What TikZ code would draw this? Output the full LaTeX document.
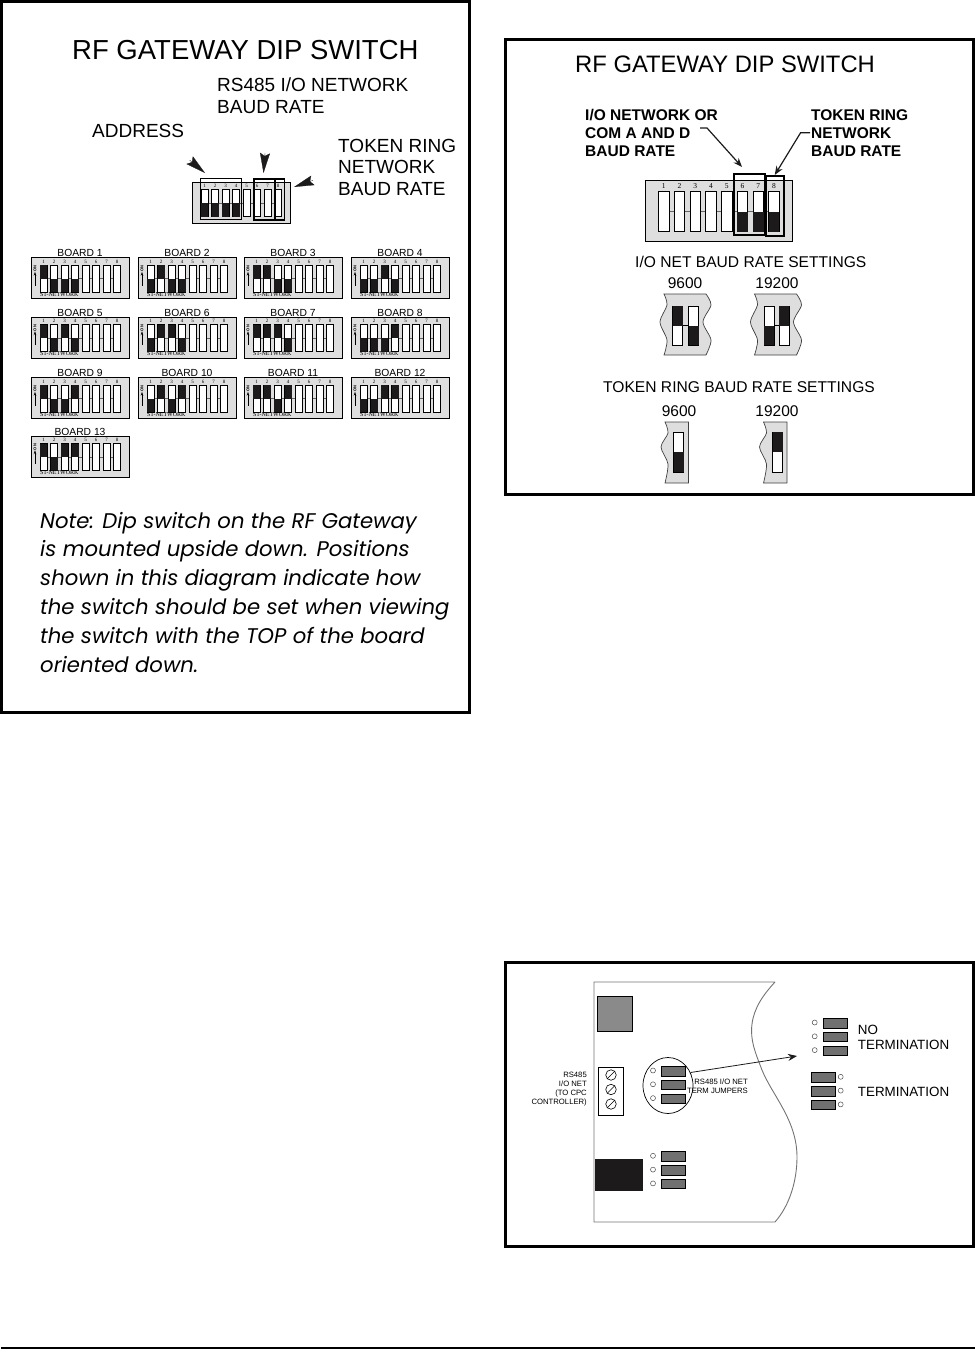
\documentclass[tikz,border=0pt]{standalone}
\usepackage{fontspec}
\setmainfont{Liberation Sans}
\newfontfamily\dipfont{Liberation Serif}
\newfontfamily\notefont{Poppins}
\usepackage{xcolor}
\usetikzlibrary{arrows.meta, positioning, shapes.geometric}
\definecolor{bodygray}{RGB}{222, 222, 222}
\definecolor{jumpergray}{RGB}{112, 112, 112}
\definecolor{blockgray}{RGB}{138, 138, 138}
\definecolor{inkblack}{RGB}{28, 26, 26}

% one slide switch: x, y, width, height, state (0 open, 1 top black, 2 bottom black)
\newcommand{\oneswitch}[5]{%
  \draw[swbody] (#1,#2) rectangle ++(#3,#4);
  \ifnum#5=1 \fill[inkblack] (#1,#2) rectangle ++(#3,#4/2); \fi
  \ifnum#5=2 \fill[inkblack] (#1,#2+#4/2) rectangle ++(#3,#4/2); \fi
}
% eight way switch: name, left, top, scale, states
\newcommand{\dipswitch}[5]{%
  \node[dipbody, minimum width=#4*98pt, minimum height=#4*41pt] (#1) at (#2,#3) {};
  \begin{scope}[shift={(#2,#3)}, scale=#4]
    \draw[midline] (9,21) -- (90,21);
    \foreach \s [count=\i] in {#5} {
      \oneswitch{9+10.5*\i-10.5}{7.5}{7}{27}{\s}
      \node[dipnum] (#1num\i) at (12.5+10.5*\i-10.5,4.3) {\i};
    }
  \end{scope}
}
% address board: name, left, top, title, states of switches 1 to 4
\newcommand{\boardswitch}[5]{%
  \dipswitch{#1}{#2}{#3}{1}{#5,0,0,0,0}
  \node[boardtitle, above=0pt of #1] (#1title) {#4};
  \node[ontag] (#1on) at (#2+4,#3+11) {ON};
  \coordinate (#1tail) at (#2+4,#3+28);
  \draw[-{Stealth[length=4pt,width=2.5pt]}, line width=0.5pt] (#1tail) -- (#1on);
  \node[nettag] (#1net) at (#2+9,#3+37) {S1-NETWORK};
}
% three jumpers with their pads: name, left, top, pad x
\newcommand{\jumperset}[4]{%
  \foreach \j in {0,1,2} {
    \node[jumper] (#1j\j) at (#2,#3+13.8*\j) {};
    \node[pad] (#1p\j) at (#4,#3+4.5+13.8*\j) {};
  }
}
% wavy pieces of board behind the baud rate settings
\newcommand{\ionetpatch}[2]{%
  \draw[patch, shift={(#1,#2)}] plot[smooth] coordinates {(0,0) (3,11) (-4,28) (3,46) (0,61)}
    -- plot[smooth] coordinates {(42,61) (47,46) (39,28) (47,11) (42,0)} -- cycle;
}
\newcommand{\tokenpatch}[2]{%
  \draw[patch, shift={(#1,#2)}] plot[smooth] coordinates {(0,0) (3,11) (-4,25) (3,42) (0,61)}
    -- (23.5,61) -- (23.5,0) -- cycle;
}

\begin{document}
\begin{tikzpicture}[x=1pt, y=-1pt, >={Stealth},
    panel/.style={draw=black, line width=3pt},
    dipbody/.style={rectangle, draw=black, fill=bodygray, line width=0.9pt, anchor=north west, inner sep=0pt, outer sep=0pt},
    swbody/.style={draw=black, fill=white, line width=1pt},
    midline/.style={draw=black!60, line width=0.4pt},
    dipnum/.style={font=\dipfont\fontsize{5}{5}\selectfont, inner sep=0pt, transform shape},
    boardtitle/.style={font=\fontsize{10.3}{11}\selectfont, inner sep=0pt, outer sep=0.5pt},
    ontag/.style={font=\fontsize{4}{4}\selectfont\bfseries, rotate=90, inner sep=0pt},
    nettag/.style={font=\dipfont\fontsize{6}{6}\selectfont, anchor=west, inner sep=0pt},
    frame/.style={rectangle, draw=black, line width=1.5pt, anchor=north west, inner sep=0pt},
    hdr/.style={anchor=base west, inner sep=0pt},
    tag/.style={hdr, align=left, font=\fontsize{19}{21.5}\selectfont},
    boldtag/.style={hdr, align=left, font=\fontsize{15.5}{17.8}\selectfont\bfseries},
    rate/.style={anchor=base, inner sep=0pt, font=\fontsize{15.5}{17}\selectfont},
    settings/.style={hdr, font=\fontsize{15.6}{18}\selectfont},
    patch/.style={draw=black!75, fill=bodygray, line width=0.7pt},
    link/.style={draw=inkblack, line width=1.2pt, -{Stealth[length=9pt,width=7pt]}},
    fat/.style={-{Stealth[length=20pt,width=10pt,inset=3pt]}, draw=inkblack, line width=0.3pt},
    jumper/.style={rectangle, draw=black, fill=jumpergray, line width=0.8pt, minimum width=23.5pt, minimum height=9.5pt, anchor=north west, inner sep=0pt},
    pad/.style={circle, draw=black!70, fill=white, line width=0.5pt, minimum size=5pt, inner sep=0pt},
    screw/.style={circle, draw=black, fill=white, line width=0.6pt, minimum size=10.5pt, inner sep=0pt},
    smalltag/.style={anchor=base east, align=right, inner sep=0pt, font=\fontsize{7.7}{8.8}\selectfont},
    termtag/.style={hdr, font=\fontsize{13.4}{15}\selectfont}]
    \useasboundingbox (0,0) rectangle (975,1369);

    % Left panel
    \draw[panel] (1.5,1.5) rectangle (469.5,712.5);
    \node[hdr, font=\fontsize{27.5}{30}\selectfont] (lefttitle) at (72,59) {RF GATEWAY DIP SWITCH};
    \node[tag] (rsbaud) at (217,113) {RS485 I/O NETWORK\\BAUD RATE};
    \node[tag] (addresstag) at (92,137) {ADDRESS};
    \node[tag] (tokentag) at (338,195) {TOKEN RING\\NETWORK\\BAUD RATE};

    \dipswitch{mainsw}{192}{182}{1}{2,2,2,2,0,0,0,0}
    \node[frame, line width=0.9pt, minimum width=41pt, minimum height=41pt] (addrframe) at (200,178) {};
    \node[frame, minimum width=21pt, minimum height=41pt] (ioframe) at (253,178) {};
    \node[frame, minimum width=9.5pt, minimum height=41pt] (tokenframe) at (274,178) {};

    \coordinate (addrarrow) at (189.5,160);
    \coordinate (ioarrow) at (265,153);
    \coordinate (tokenarrow) at (313,180.3);
    \draw[fat] (addrarrow) -- (205,173);
    \draw[fat] (ioarrow) -- (263.5,173);
    \draw[fat] (tokenarrow) -- (294,187);

    % Address boards
    \boardswitch{boardA}{31}{257.5}{BOARD 1}{1,2,2,2}
    \boardswitch{boardB}{138}{257.5}{BOARD 2}{2,1,2,2}
    \boardswitch{boardC}{244}{257.5}{BOARD 3}{1,1,2,2}
    \boardswitch{boardD}{351}{257.5}{BOARD 4}{2,2,1,2}
    \boardswitch{boardE}{31}{317}{BOARD 5}{1,2,1,2}
    \boardswitch{boardF}{138}{317}{BOARD 6}{2,1,1,2}
    \boardswitch{boardG}{244}{317}{BOARD 7}{1,1,1,2}
    \boardswitch{boardH}{351}{317}{BOARD 8}{2,2,2,1}
    \boardswitch{boardI}{31}{377.5}{BOARD 9}{1,2,2,1}
    \boardswitch{boardJ}{138}{377.5}{BOARD 10}{2,1,2,1}
    \boardswitch{boardK}{244}{377.5}{BOARD 11}{1,1,2,1}
    \boardswitch{boardL}{351}{377.5}{BOARD 12}{2,2,1,1}
    \boardswitch{boardM}{31}{436}{BOARD 13}{1,2,1,1}

    \node[hdr, align=left, font=\notefont\itshape\fontsize{21.2}{28.8}\selectfont] (note) at (40,672)
      {Note: Dip switch on the RF Gateway\\is mounted upside down. Positions\\shown in this diagram indicate how\\the switch should be set when viewing\\the switch with the TOP of the board\\oriented down.};

    % Top right panel
    \draw[panel] (505.5,39.5) rectangle (973.5,494);
    \node[hdr, font=\fontsize{23.8}{26}\selectfont] (righttitle) at (575,72) {RF GATEWAY DIP SWITCH};
    \node[boldtag] (ionetwork) at (585,156) {I/O NETWORK OR\\COM A AND D\\BAUD RATE};
    \node[boldtag] (tokennetwork) at (811,156) {TOKEN RING\\NETWORK\\BAUD RATE};

    \dipswitch{largesw}{645}{180}{1.5}{0,0,0,0,0,2,2,2}
    \node[frame, minimum width=31pt, minimum height=61pt] (largeio) at (733,173) {};
    \node[frame, minimum width=18pt, minimum height=60pt] (largetoken) at (765,175) {};

    \coordinate (iostart) at (700,128);
    \coordinate (ioknee) at (707,128);
    \coordinate (iotip) at (742,167);
    \coordinate (tokenstart) at (810,132.7);
    \coordinate (tokenknee) at (800.6,132.7);
    \draw[link] (iostart) -- (ioknee) -- (iotip);
    \draw[link] (tokenstart) -- (tokenknee) -- (largetoken.north);

    \node[settings] (ionetsettings) at (635,267) {I/O NET BAUD RATE SETTINGS};
    \node[rate] (iorateA) at (685,288) {9600};
    \node[rate] (iorateB) at (777,288) {19200};
    \ionetpatch{664}{294}
    \ionetpatch{754.5}{294}
    \draw[midline, draw=black] (682,325.5) -- (688,325.5);
    \draw[midline, draw=black] (774,325.5) -- (779,325.5);
    \oneswitch{672.5}{306}{10}{39}{1}
    \oneswitch{688.5}{306}{10}{39}{2}
    \oneswitch{764}{306}{10}{39}{2}
    \oneswitch{779}{306}{10}{39}{1}

    \node[settings] (tokensettings) at (603,392) {TOKEN RING BAUD RATE SETTINGS};
    \node[rate] (tokenrateA) at (679,416) {9600};
    \node[rate] (tokenrateB) at (777,416) {19200};
    \tokenpatch{665}{422}
    \tokenpatch{763.5}{422}
    \oneswitch{673.5}{432}{10}{40}{2}
    \oneswitch{772.5}{432}{10}{40}{1}

    % Bottom right panel
    \draw[panel] (505.5,962.5) rectangle (973.5,1246);
    \draw[draw=black!55, line width=0.9pt] (775,982) -- (594,982) -- (594,1222) -- (775,1222)
      .. controls (790,1205) and (797,1180) .. (797,1157)
      .. controls (797,1120) and (772,1095) .. (762,1070)
      .. controls (755,1052) and (750,1040) .. (752,1024)
      .. controls (754,1008) and (763,995) .. (775,982);
    \node[frame, line width=0.8pt, fill=blockgray, minimum width=35pt, minimum height=35pt] (relaybox) at (597,996) {};
    \node[frame, line width=0.8pt, minimum width=25pt, minimum height=48pt] (terminal) at (598,1067) {};
    \foreach \t in {0,1,2} {
      \node[screw] (screw\t) at (611,1075+14.5*\t) {};
      \draw[line width=0.6pt] (screw\t.225) -- (screw\t.45);
    }
    \node[frame, draw=none, fill=inkblack, minimum width=48pt, minimum height=32pt] (blackblock) at (594,1158) {};
    \node[ellipse, draw=black, line width=0.7pt, minimum width=50pt, minimum height=56pt, inner sep=0pt] (jumperring) at (668,1085.5) {};

    \jumperset{ring}{661}{1066}{653}
    \jumperset{lower}{661}{1151.3}{653}
    \jumperset{noterm}{823.3}{1018}{814.7}
    \jumperset{term}{811.3}{1072.3}{840.7}

    \node[smalltag] (rstag) at (587,1104) {RS485\\I/O NET\\(TO CPC\\CONTROLLER)};
    \node[smalltag] (jumpertag) at (748,1093) {RS485 I/O NET\\TERM JUMPERS};
    \node[termtag] (notag) at (857.7,1034) {NO};
    \node[termtag] (notermtag) at (857.7,1049) {TERMINATION};
    \node[termtag] (termtag) at (857.7,1096.7) {TERMINATION};
    \coordinate (detailtip) at (797,1056);
    \draw[link, line width=0.8pt] (jumperring.30) -- (detailtip);

    % Page rule
    \coordinate (ruleleft) at (1,1348);
    \coordinate (ruleright) at (975,1348);
    \draw[line width=1.3pt] (ruleleft) -- (ruleright);
\end{tikzpicture}
\end{document}
